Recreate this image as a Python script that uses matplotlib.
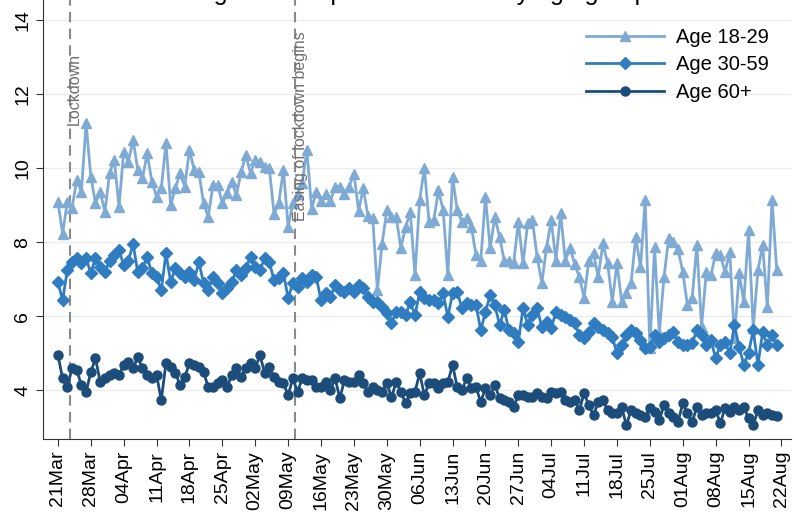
import pandas as pd
import matplotlib
matplotlib.use("Agg")
import matplotlib.pyplot as plt
import matplotlib.dates as mdates

plt.rcParams['font.family'] = ['Liberation Sans', 'DejaVu Sans']

# daily values, 21 Mar - 21 Aug
start_date = "2020-03-21"
n_days = 154

age_18_29 = [9.09, 8.23, 9.09, 8.91, 9.68, 9.36, 11.21, 9.77, 9.05, 9.36, 8.82, 9.86, 10.22, 8.95,
             10.44, 10.17, 10.76, 9.95, 9.72, 10.40, 9.63, 9.23, 9.45, 10.67, 9.0, 9.45, 9.86, 9.5,
             10.49, 9.95, 9.9, 9.05, 8.68, 9.54, 9.54, 9.05, 9.32, 9.63, 9.27, 9.9, 10.35, 9.86,
             10.22, 10.17, 10.04, 9.99, 8.77, 9.05, 9.95, 8.41, 9.05,
             9.3, 9.6, 10.5, 8.9, 9.35, 9.1, 9.3, 9.1, 9.5, 9.5,
             9.3, 9.5, 9.85, 8.85, 9.45, 8.7, 8.65, 6.7, 7.95, 8.86,
             8.68, 8.68, 7.84, 8.41, 8.81, 7.1, 9.14, 10.0, 8.54, 8.59,
             9.4, 8.86, 7.1, 9.76, 8.86, 8.54, 8.65, 8.41, 7.65, 7.5,
             9.22, 7.84, 8.68, 8.14, 7.5, 7.5, 7.43, 8.54, 7.43, 8.51,
             8.59, 7.6, 6.9, 7.86, 8.59, 7.5, 8.78, 7.5, 7.84, 7.4,
             7.05, 6.5, 7.5, 7.7, 7.05, 7.97, 7.43, 6.38, 7.43, 6.38,
             6.62, 6.9, 8.14, 7.32, 9.14, 5.14, 7.86, 5.54, 7.05, 8.1,
             8.0, 7.8, 7.19, 6.3, 6.49, 7.92, 5.7, 7.19, 7.1, 7.7,
             7.65, 7.19, 7.73, 5.4, 7.16, 6.38, 8.32, 5.68, 7.24, 7.92,
             6.24, 9.14, 7.24]

age_30_59 = [6.92, 6.43, 7.24, 7.46, 7.57, 7.43, 7.57, 7.16, 7.57, 7.32, 7.19, 7.5, 7.65, 7.78,
             7.38, 7.5, 7.95, 7.19, 7.3, 7.6, 7.16, 7.05, 6.7, 7.7, 6.92, 7.3, 7.16, 7.05,
             7.19, 6.97, 7.46, 6.89, 6.7, 7.05, 6.89, 6.62, 6.76, 6.92, 7.24, 7.1, 7.3, 7.6,
             7.32, 7.24, 7.57, 7.46, 6.97, 7.03, 7.16, 6.49, 6.89, 6.78, 7.03, 6.92, 7.1, 7.05,
             6.43, 6.62, 6.51, 6.84, 6.7, 6.65, 6.76, 6.65, 6.84, 6.76, 6.51, 6.38, 6.38, 6.24,
             6.08, 5.81, 6.11,
             6.11, 6.03, 6.38, 6.03, 6.65, 6.49, 6.43, 6.43, 6.35, 6.62,
             5.97, 6.62, 6.65, 6.22, 6.35, 6.3, 6.3, 5.62, 6.11, 6.57,
             6.3, 5.76, 6.16, 5.62, 5.54, 5.3, 6.22, 5.76, 6.03, 6.22,
             5.7, 5.84, 5.68, 6.11, 6.03, 5.97, 5.89, 5.81, 5.49, 5.41,
             5.57, 5.81, 5.7, 5.62, 5.54, 5.43, 5.0, 5.22, 5.49, 5.62,
             5.55, 5.35, 5.14, 5.16, 5.49, 5.3, 5.41, 5.49, 5.57, 5.3,
             5.22, 5.22, 5.27, 5.62, 5.49, 5.22, 5.35, 4.86, 5.22, 5.3,
             5.0, 5.76, 5.16, 4.68, 5.0, 5.62, 4.68, 5.57, 5.22, 5.5,
             5.22]

age_60_plus = [4.95, 4.32, 4.08, 4.59, 4.54, 4.14, 3.95, 4.49, 4.86, 4.22, 4.32, 4.41, 4.46, 4.41,
               4.68, 4.76, 4.59, 4.89, 4.59, 4.41, 4.32, 4.41, 3.73, 4.73, 4.62, 4.46, 4.14, 4.35,
               4.73, 4.68, 4.62, 4.49, 4.08, 4.08, 4.19, 4.27, 4.08, 4.41, 4.59, 4.35, 4.59, 4.73,
               4.59, 4.95, 4.46, 4.62, 4.35, 4.22, 4.19, 3.86, 4.32, 3.95, 4.32, 4.27, 4.27, 4.08,
               4.08, 4.22, 4.0, 4.32, 3.78, 4.27, 4.22, 4.22, 4.41, 4.19, 3.95, 4.08, 4.0, 3.95,
               4.19, 3.81, 4.22,
               3.95, 3.65, 3.92, 3.95, 4.46, 3.86, 4.19, 4.19, 4.05, 4.19,
               4.22, 4.68, 4.08, 4.0, 4.32, 4.05, 4.08, 3.68, 4.05, 3.86,
               4.14, 3.78, 3.73, 3.68, 3.54, 3.86, 3.86, 3.81, 3.81, 3.92,
               3.81, 3.78, 3.95, 3.92, 3.95, 3.73, 3.68, 3.73, 3.46, 3.92,
               3.59, 3.32, 3.68, 3.73, 3.46, 3.38, 3.38, 3.54, 3.05, 3.46,
               3.38, 3.32, 3.27, 3.51, 3.41, 3.19, 3.59, 3.38, 3.27, 3.14,
               3.65, 3.38, 3.14, 3.54, 3.32, 3.38, 3.38, 3.46, 3.11, 3.51,
               3.41, 3.54, 3.46, 3.54, 3.24, 3.05, 3.46, 3.32, 3.38, 3.32,
               3.3]

series_labels = ["Age 18-29", "Age 30-59", "Age 60+"]
event_dates = ["2020-03-23 12:00", "2020-05-10 12:00"]
event_labels = ["Lockdown", "Easing of lockdown begins"]
event_label_tops = [13.1, 13.7]

dates = pd.date_range(start_date, periods=n_days, freq="D")
tick_dates = pd.date_range("2020-03-21", "2020-08-22", freq="7D")

colors = ["#7eaad4", "#2f7dc0", "#1c4c7a"]
markers = ["^", "D", "o"]
msizes = [7, 6, 6.5]

fig = plt.figure(figsize=(7.94, 5.18), dpi=100)
ax = fig.add_axes([0.054, 0.1525, 0.942, 0.8475])

for vals, lab, c, m, ms in zip([age_18_29, age_30_59, age_60_plus], series_labels, colors, markers, msizes):
    ax.plot(dates, vals, color=c, lw=2, marker=m, markersize=ms, label=lab)

for d, lab, top in zip(event_dates, event_labels, event_label_tops):
    ax.axvline(pd.Timestamp(d), color="#8a8a8a", lw=1.5, ls=(0, (5, 3)), zorder=1)
    ax.text(pd.Timestamp(d) + pd.Timedelta(hours=26), top, lab, rotation=90, va="top", ha="center",
            fontsize=11.5, color="#6e6e6e")

ax.set_ylim(2.68, 14.54)
ax.set_xlim(pd.Timestamp(start_date) - pd.Timedelta(days=3.2), pd.Timestamp(start_date) + pd.Timedelta(days=156))
ax.set_yticks([4, 6, 8, 10, 12, 14])
ax.set_xticks(tick_dates)
ax.xaxis.set_major_formatter(mdates.DateFormatter("%d%b"))
ax.tick_params(axis="x", rotation=90, labelsize=14, length=5, color="#333333")
ax.tick_params(axis="y", labelsize=14, length=5, color="#333333")
for t in ax.get_yticklabels():
    t.set_rotation(90)
    t.set_va("center")
ax.grid(axis="y", color="#ececec", lw=1)
ax.set_axisbelow(True)
ax.spines["top"].set_visible(False)
ax.spines["right"].set_visible(False)
ax.spines["left"].set_color("#333333")
ax.spines["bottom"].set_color("#333333")

ax.legend(loc="upper right", bbox_to_anchor=(0.995, 0.978), frameon=False, fontsize=14.5,
          numpoints=1, handlelength=3.85, handletextpad=0.6, labelspacing=0.42)

# title sits above the crop, only descenders show
fig.text(0.53, 1.0, "Figure 3. Depression levels by age group", ha="center", va="baseline", fontsize=18)

fig.savefig("out.png", dpi=100)
